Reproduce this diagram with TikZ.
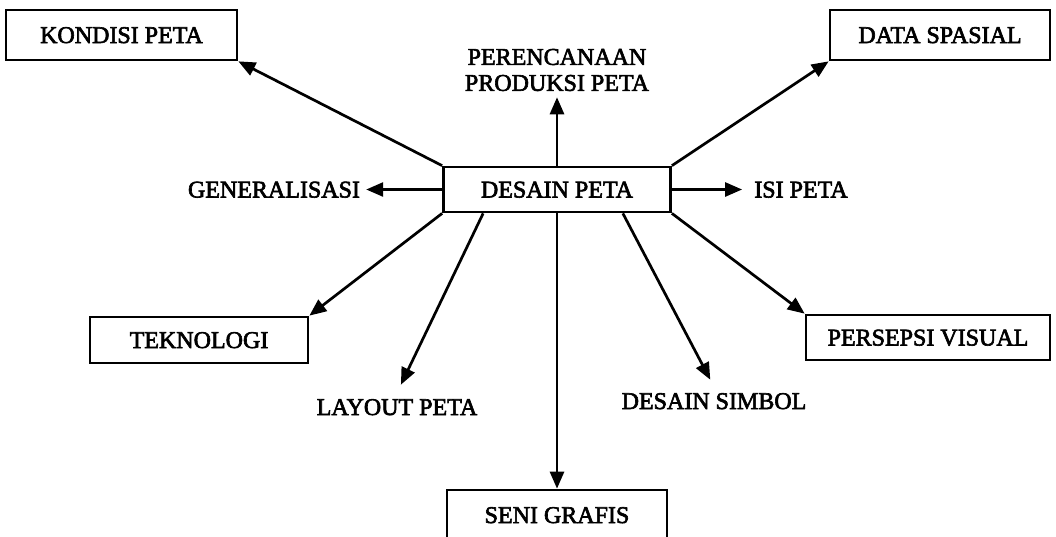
\documentclass[tikz,border=0pt]{standalone}
\usepackage{fontspec}
\setmainfont{Liberation Serif}
\newfontfamily\heavy{Liberation Serif}[FakeBold=2.6]
\usetikzlibrary{arrows.meta}
\newcommand{\bigtxt}{\heavy\fontsize{24pt}{26pt}\selectfont}

\begin{document}
\begin{tikzpicture}[x=1pt,y=-1pt,
   box/.style={draw,line width=2.7pt,inner sep=0pt,font=\bigtxt,
               text height=16pt,text depth=0pt},
   lbl/.style={inner sep=6pt,font=\bigtxt,text height=16pt,text depth=0pt},
   arr/.style={line width=2.7pt,-{Triangle[length=17pt,width=14pt]}}]
   \useasboundingbox (0,0) rectangle (1056,536);
   % centre
   \node[box,minimum width=227pt,minimum height=45pt] (desain) at (557,189.5) {DESAIN PETA};
   % boxes round it
   \node[box,minimum width=231pt,minimum height=50pt] (kondisi) at (121.5,35) {KONDISI PETA};
   \node[box,minimum width=220pt,minimum height=50pt] (data) at (940,35) {DATA SPASIAL};
   \node[box,minimum width=218pt,minimum height=46pt] (tekno) at (199,340) {TEKNOLOGI};
   \node[box,minimum width=244pt,minimum height=45pt] (persepsi) at (928,337.5) {PERSEPSI VISUAL};
   \node[box,minimum width=220pt,minimum height=50pt] (seni) at (557,515) {SENI GRAFIS};
   % free labels
   \node[inner sep=6pt,font=\bigtxt,align=center] (rencana) at (557,70) {PERENCANAAN\\PRODUKSI PETA};
   \node[lbl] (general) at (274,189.5) {GENERALISASI};
   \node[lbl] (isi) at (801,189.5) {ISI PETA};
   \node[lbl] (layout) at (397,407) {LAYOUT PETA};
   \node[lbl] (simbol) at (714,401) {DESAIN SIMBOL};
   % arrows
   \draw[arr] (desain.north) -- (rencana.south);
   \draw[arr] (desain.north west) -- (kondisi.south east);
   \draw[arr] (desain.north east) -- (data.south west);
   \draw[arr] (desain.west) -- (general.east);
   \draw[arr,shorten >=6pt] (desain.east) -- (isi.west);
   \draw[arr] (desain.south west) -- (tekno.north east);
   \draw[arr,shorten >=9pt] ([xshift=41pt]desain.south west) -- (layout.north);
   \draw[arr] (desain.south) -- (seni.north);
   \draw[arr,shorten >=8pt] ([xshift=-49pt]desain.south east) -- (simbol.north);
   \draw[arr] (desain.south east) -- (persepsi.north west);
\end{tikzpicture}
\end{document}
